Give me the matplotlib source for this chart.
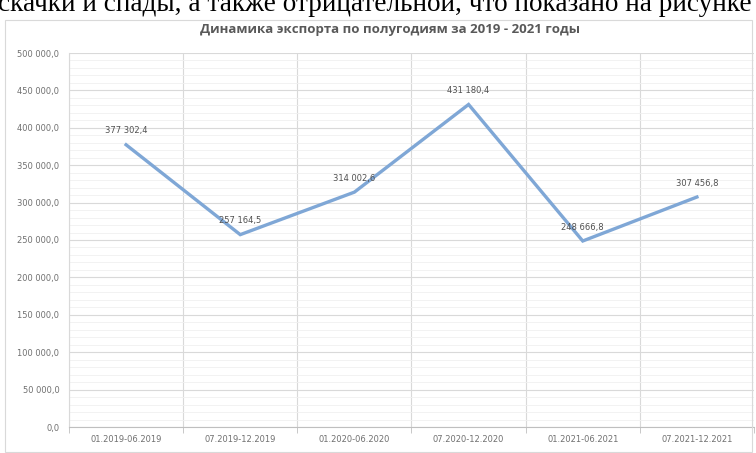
import numpy as np
import matplotlib.pyplot as plt
from matplotlib.patches import Rectangle
from matplotlib.ticker import MultipleLocator, FuncFormatter

# Data
periods = ["01.2019-06.2019", "07.2019-12.2019", "01.2020-06.2020",
           "07.2020-12.2020", "01.2021-06.2021", "07.2021-12.2021"]
export_values = [377302.4, 257164.5, 314002.6, 431180.4, 248666.8, 307456.8]

title = "Динамика экспорта по полугодиям за 2019 - 2021 годы"
body_text = "скачки и спады, а также отрицательной, что показано на рисунке"


def ru_fmt(v, pos=None):
    # 377302.4 -> "377 302,4"
    s = f"{v:,.1f}".replace(",", " ").replace(".", ",")
    return s


fig = plt.figure(figsize=(7.56, 4.53), dpi=100)

# cut-off line of document text above the chart
fig.text(-0.003, 1 - 11 / 453, body_text, family="Liberation Serif",
         fontsize=19.6, color="black", va="baseline", ha="left")

# chart area border
fig.patches.append(Rectangle((5 / 756, 1 / 453), 747 / 756, 432 / 453,
                             transform=fig.transFigure, fill=False,
                             edgecolor="#d9d9d9", linewidth=0.8))

ax = fig.add_axes([69 / 756, 26 / 453, 685 / 756, 374 / 453])
x = np.arange(len(periods))
ax.plot(x, export_values, color="#7fa7d6", linewidth=2.4, solid_joinstyle="miter")

for xi, v in zip(x, export_values):
    ax.annotate(ru_fmt(v), (xi, v), xytext=(0, 10), textcoords="offset points",
                ha="center", va="center", fontsize=6, color="#505050")

ax.set_xlim(-0.5, len(periods) - 0.5)
ax.set_ylim(0, 500000)
ax.set_xticks(x)
ax.set_xticklabels(periods)
ax.xaxis.set_minor_locator(MultipleLocator(1, offset=0.5))
ax.yaxis.set_major_locator(MultipleLocator(50000))
ax.yaxis.set_minor_locator(MultipleLocator(10000))
ax.yaxis.set_major_formatter(FuncFormatter(ru_fmt))

ax.grid(True, which="major", axis="y", color="#d9d9d9", linewidth=0.8)
ax.grid(True, which="minor", axis="y", color="#f0f0f0", linewidth=0.6)
ax.grid(True, which="minor", axis="x", color="#d9d9d9", linewidth=0.8)
ax.set_axisbelow(True)

ax.tick_params(axis="x", which="major", length=0, labelsize=6, labelcolor="#707070", pad=6)
ax.tick_params(axis="x", which="minor", length=4, color="#bfbfbf", direction="out")
ax.tick_params(axis="y", which="both", length=0, labelsize=6, labelcolor="#707070", pad=7)

for side in ["top", "right"]:
    ax.spines[side].set_visible(False)
ax.spines["left"].set_color("#d9d9d9")
ax.spines["bottom"].set_color("#bfbfbf")

fig.text(390 / 756, 1 - 30 / 453, title, ha="center", va="center",
         family="Open Sans", fontsize=9.5, fontweight="bold", color="#595959")

fig.savefig("out.png", dpi=100)
